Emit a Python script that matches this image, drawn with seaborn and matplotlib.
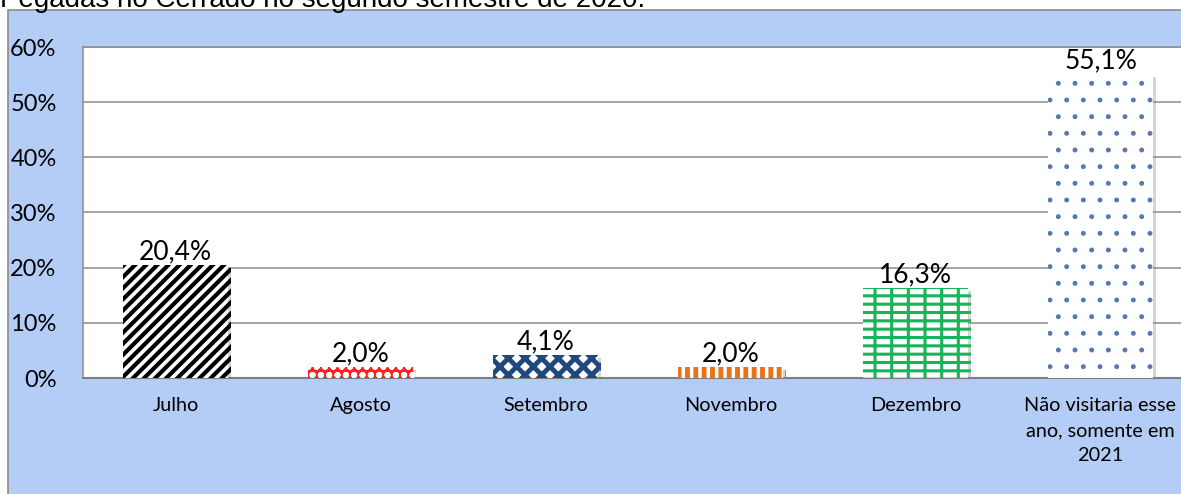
import matplotlib
matplotlib.use("Agg")
import matplotlib.pyplot as plt
import matplotlib.patheffects as pe
from matplotlib.patches import Rectangle
from matplotlib.ticker import FuncFormatter
import seaborn as sns
import pandas as pd

categories = ["Julho", "Agosto", "Setembro", "Novembro", "Dezembro",
              "Não visitaria esse\nano, somente em\n2021"]
values = [20.4, 2.0, 4.1, 2.0, 16.3, 55.1]
value_labels = ["20,4%", "2,0%", "4,1%", "2,0%", "16,3%", "55,1%"]
title = "Pegadas no Cerrado no segundo semestre de 2020."

face_colors = ["white", "#FF2020", "white", "white", "white", "white"]
hatch_colors = ["black", "white", "#1F497D", "#E8731A", "#19B35A", "#5578B0"]
hatches = ["///", "oo", "xx", "||", "+-", "."]
hatch_lw = [3.0, 2.0, 3.5, 3.5, 2.2, 1.1]

sns.set_theme(style="white")
plt.rcParams["font.family"] = ["Lato", "DejaVu Sans"]

W, H = 1181, 494
fig = plt.figure(figsize=(W / 100, H / 100), dpi=100)
fig.patch.set_facecolor("white")

# blue chart background
bg = Rectangle((8 / W, -0.05), 1.2, (H - 10) / H + 0.05, transform=fig.transFigure,
               facecolor="#B3CDF6", edgecolor="#8C8C8C", linewidth=1.2, zorder=-5)
fig.patches.append(bg)

fig.text(0.0, 1 - 7 / H, title, fontsize=20, family="Liberation Sans",
         va="baseline", ha="left", color="black")

left, top, bottom = 83, 47, 378
ax = fig.add_axes([left / W, (H - bottom) / H, (W - left) / W, (bottom - top) / H])
ax.set_zorder(2)
ax.set_facecolor("white")

df = pd.DataFrame({"cat": categories, "val": values})
sns.barplot(data=df, x="cat", y="val", ax=ax, width=0.57, color="white",
            saturation=1, zorder=3)

for i, p in enumerate(ax.patches):
    p.set_facecolor(face_colors[i])
    p.set_edgecolor(hatch_colors[i])
    p.set_linewidth(0)
    p.set_hatch(hatches[i])
    if hasattr(p, "set_hatch_linewidth"):
        p.set_hatch_linewidth(hatch_lw[i])
    p.set_path_effects([pe.SimplePatchShadow(offset=(2, -2), shadow_rgbFace="#888888", alpha=0.35),
                        pe.Normal()])
    ax.text(p.get_x() + p.get_width() / 2, values[i] + 0.2, value_labels[i],
            ha="center", va="bottom", fontsize=19, color="black", zorder=5)

span = (W - left) / 185.0
ax.set_xlim(-0.5, -0.5 + span)
ax.set_ylim(0, 60)
ax.set_yticks([0, 10, 20, 30, 40, 50, 60])
ax.yaxis.set_major_formatter(FuncFormatter(lambda v, _: f"{v:.0f}%"))
ax.grid(axis="y", color="#8C8C8C", linewidth=1.1, zorder=0)
ax.set_axisbelow(True)
ax.set_xlabel("")
ax.set_ylabel("")
ax.tick_params(axis="y", length=0, pad=19, labelsize=17, labelcolor="black")
ax.tick_params(axis="x", length=0, pad=14, labelsize=14.3, labelcolor="black")
for lab in ax.get_xticklabels():
    lab.set_linespacing(1.55)
    lab.set_verticalalignment("top")

for s in ["left", "top"]:
    ax.spines[s].set_color("#8C8C8C")
    ax.spines[s].set_linewidth(1.1)
ax.spines["bottom"].set_color("#7F7F7F")
ax.spines["bottom"].set_linewidth(1.5)
ax.spines["right"].set_visible(False)

fig.savefig("out.png", dpi=100)
